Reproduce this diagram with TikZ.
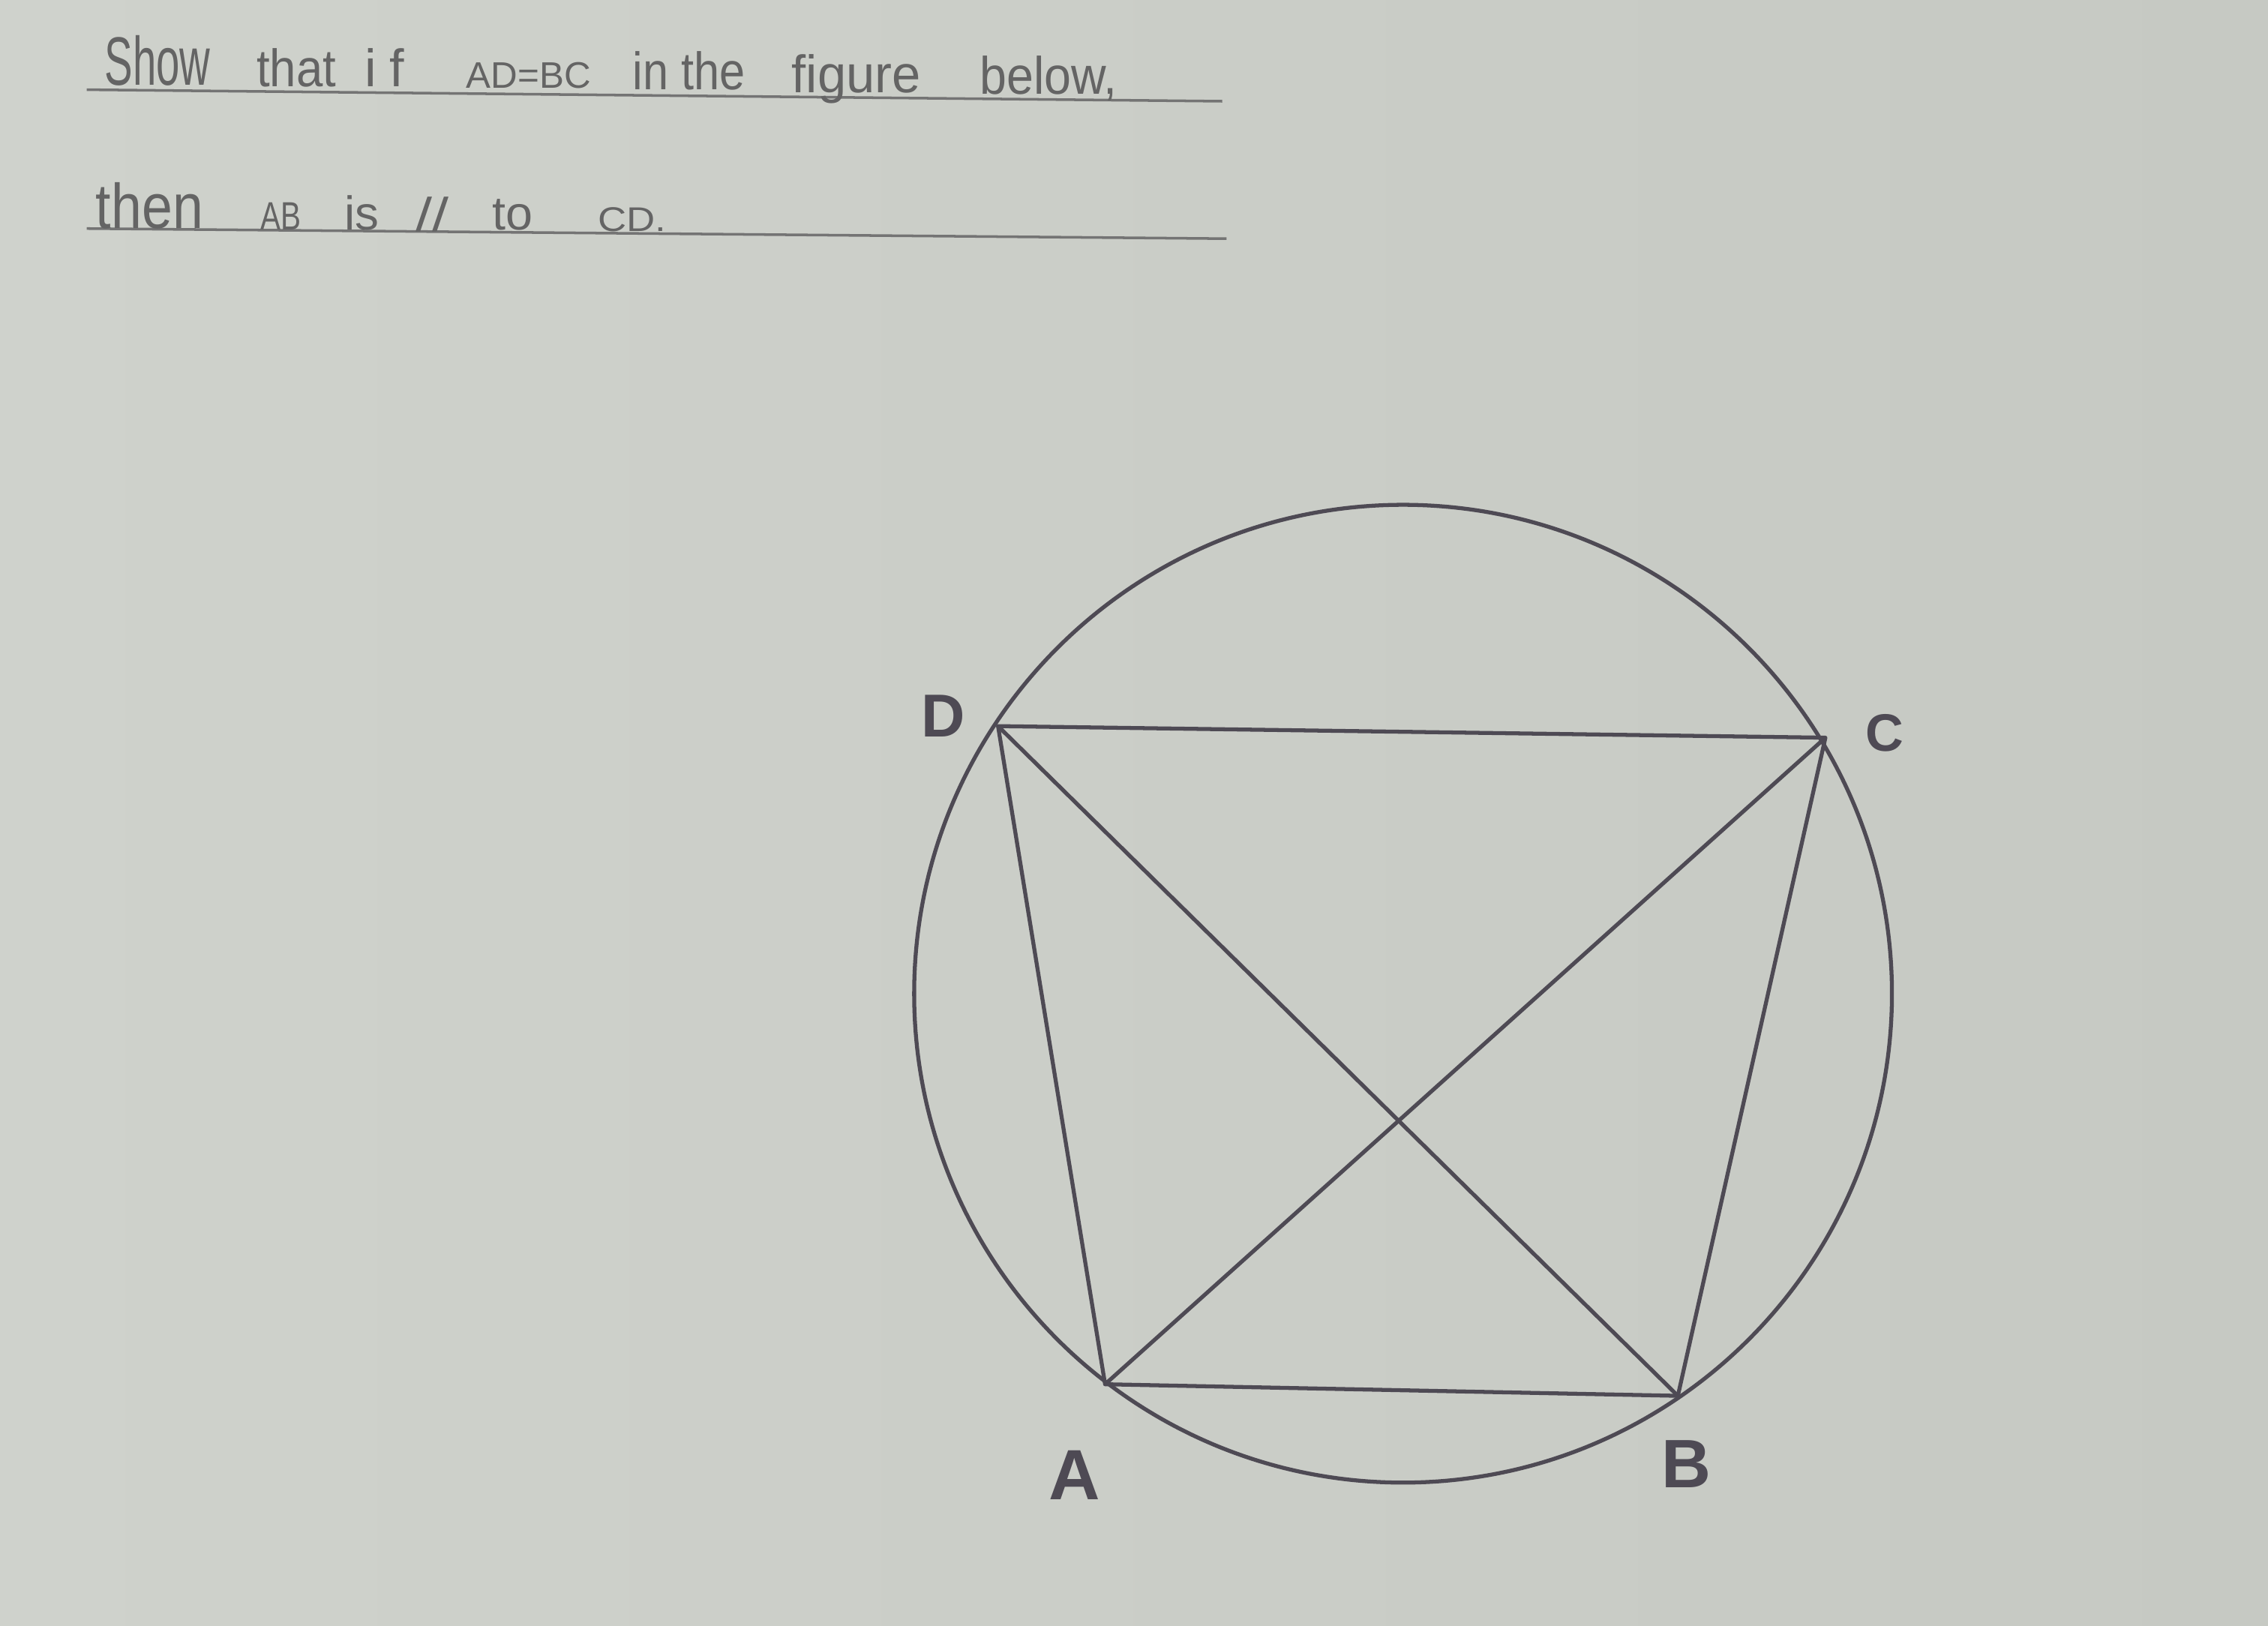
\documentclass[tikz,border=0pt]{standalone}
\usepackage{fontspec}
\setmainfont{Liberation Sans}
\definecolor{paperL}{RGB}{207,210,204}
\definecolor{paperR}{RGB}{198,201,195}
\definecolor{pencil}{RGB}{100,100,100}
\definecolor{ink}{RGB}{78,74,84}
\newcommand\hw[2]{\resizebox{#1}{\height}{#2}}
\begin{document}
\begin{tikzpicture}[x=0.019286cm,y=-0.019286cm,
  pw/.style={inner sep=0pt, anchor=base west, text=pencil, font=\fontsize{#1}{#1}\selectfont},
  rule/.style={draw=pencil!90, line width=1pt},
  geo/.style={draw=ink, line width=1.5pt, line join=round},
  lab/.style={inner sep=0pt, text=ink, font=\fontsize{#1}{#1}\selectfont\bfseries}]
\useasboundingbox (0,0) rectangle (1568,1124);
\shade[left color=paperL, right color=paperR] (0,0) rectangle (1568,1124);

% ruled lines
\draw[rule] (60,62) -- (845,70);
\draw[rule] (60,158) -- (848,165);

% line 1
\node[pw=26] (w1) at (72,59) {\hw{1.41cm}{Show}};
\node[pw=20] (w2) at (177,60) {\hw{1.06cm}{that}};
\node[pw=20] (w3) at (252,60) {i\kern5pt f};
\node[pw=14] (w4) at (322,61) {\hw{1.66cm}{AD=BC}};
\node[pw=20] (w5) at (437,62) {\hw{1.50cm}{in the}};
\node[pw=20] (w6) at (547,64) {\hw{1.72cm}{figure}};
\node[pw=20] (w7) at (677,65) {\hw{1.83cm}{below,}};

% line 2
\node[pw=24] (v1) at (66,158) {\hw{1.43cm}{then}};
\node[pw=15] (v2) at (180,159) {\hw{0.54cm}{AB}};
\node[pw=18] (v3) at (238,159) {\hw{0.46cm}{is}};
\node[pw=18] (v4) at (287,160) {\hw{0.44cm}{//}};
\node[pw=18] (v5) at (340,159) {\hw{0.54cm}{to}};
\node[pw=13] (v6) at (413,160) {\hw{0.91cm}{CD.}};

% geometry
\coordinate (O) at (970,687);
\coordinate (D) at (690,502);
\coordinate (C) at (1262,510);
\coordinate (A) at (764,957);
\coordinate (B) at (1160,965);
\draw[geo] (O) circle[radius=338];
\draw[geo] (A) -- (B) -- (C) -- (D) -- cycle;
\draw[geo] (A) -- (C);
\draw[geo] (B) -- (D);

% labels
\node[lab=23] (labD) at (652,495) {D};
\node[lab=20] (labC) at (1303,507) {C};
\node[lab=27] (labA) at (743,1020) {A};
\node[lab=26] (labB) at (1166,1012) {B};
\end{tikzpicture}
\end{document}
